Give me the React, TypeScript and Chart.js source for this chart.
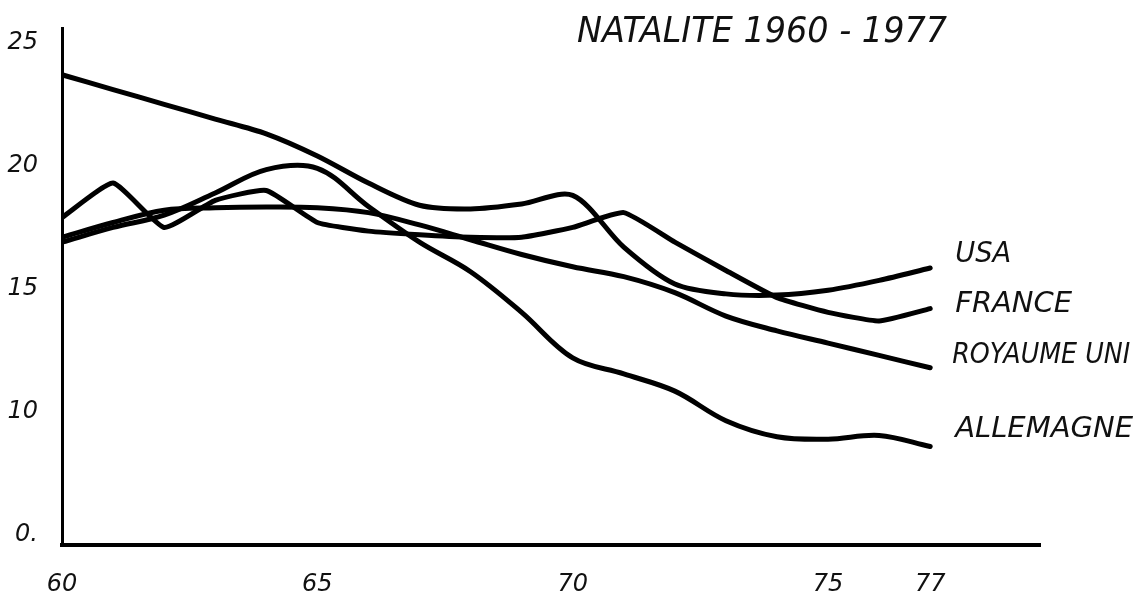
import React, { useEffect, useRef } from "react";
import { Chart, registerables } from "chart.js";

Chart.register(...registerables);

// ---- data ----
const years = [60, 61, 62, 63, 64, 65, 66, 67, 68, 69, 70, 71, 72, 73, 74, 75, 76, 77];
const usa = [23.7, 23.1, 22.5, 21.9, 21.3, 20.4, 19.3, 18.4, 18.25, 18.45, 18.8, 16.7, 15.2, 14.8, 14.75, 14.95, 15.35, 15.85];
const france = [17.9, 19.3, 17.5, 18.6, 19.0, 17.7, 17.35, 17.2, 17.1, 17.1, 17.5, 18.1, 16.9, 15.75, 14.65, 14.05, 13.7, 14.2];
const royaumeUni = [17.1, 17.7, 18.2, 18.3, 18.33, 18.3, 18.1, 17.6, 17.0, 16.4, 15.9, 15.5, 14.85, 13.9, 13.3, 12.8, 12.3, 11.8];
const allemagne = [16.9, 17.5, 18.0, 18.9, 19.85, 19.9, 18.35, 16.9, 15.7, 14.05, 12.2, 11.55, 10.85, 9.65, 9.0, 8.9, 9.05, 8.6];
const seriesNames = ["USA", "FRANCE", "ROYAUME UNI", "ALLEMAGNE"];
const xTickValues = [60, 65, 70, 75, 77];
const yTickValues = [5, 10, 15, 20, 25];
const yTickLabels = ["0.", "10", "15", "20", "25"];
const chartTitle = "NATALITE 1960 - 1977";

const FONT = '"DejaVu Sans", "Liberation Sans", sans-serif';

const handLabels = {
  id: "handLabels",
  afterDraw(chart: any) {
    const ctx = chart.ctx;
    const xs = chart.scales.x;
    const ys = chart.scales.y;
    ctx.save();
    ctx.fillStyle = "#111";
    ctx.textAlign = "left";
    ctx.textBaseline = "middle";
    ctx.font = `italic 36px ${FONT}`;
    ctx.fillText(chartTitle, 577, 33, 370);
    const style = [
      { dx: 25, dy: -14, w: 56 },
      { dx: 25, dy: -4, w: 117 },
      { dx: 22, dy: -12, w: 178 },
      { dx: 25, dy: -17, w: 178 },
    ];
    ctx.font = `italic 29px ${FONT}`;
    chart.data.datasets.forEach((ds: any, i: number) => {
      const last = ds.data[ds.data.length - 1];
      const px = xs.getPixelForValue(last.x) + style[i].dx;
      const py = ys.getPixelForValue(last.y) + style[i].dy;
      ctx.fillText(ds.label, px, py, style[i].w);
    });
    ctx.restore();
  },
};

export default function App() {
  const ref = useRef<HTMLCanvasElement>(null);
  useEffect(() => {
    const series = [usa, france, royaumeUni, allemagne];
    const tensions = [0.3, 0.15, 0.35, 0.35];
    const chart = new Chart(ref.current as HTMLCanvasElement, {
      type: "line",
      data: {
        datasets: series.map((s, i) => ({
          label: seriesNames[i],
          data: years.map((x, j) => ({ x, y: s[j] })),
          borderColor: "#000",
          borderWidth: 5,
          borderCapStyle: "round",
          borderJoinStyle: "round",
          pointRadius: 0,
          tension: tensions[i],
          fill: false,
        })),
      },
      options: {
        responsive: false,
        animation: false,
        layout: { padding: { top: 28, right: 107, left: 0, bottom: 0 } },
        plugins: {
          legend: { display: false },
          tooltip: { enabled: false },
          title: { display: false },
        },
        scales: {
          x: {
            type: "linear",
            min: 60,
            max: 79.15,
            grid: { display: false, drawTicks: false },
            border: { display: true, color: "#000", width: 4 },
            afterBuildTicks: (s: any) => {
              s.ticks = xTickValues.map((v) => ({ value: v }));
            },
            afterFit: (s: any) => {
              s.height = 50;
              s.paddingLeft = 0;
              s.paddingRight = 0;
            },
            ticks: {
              color: "#111",
              padding: 25,
              autoSkip: false,
              maxRotation: 0,
              font: { family: FONT, size: 24, style: "italic" },
              callback: (v: any) => String(v),
            },
          },
          y: {
            type: "linear",
            min: 4.6,
            max: 25.6,
            grid: { display: false, drawTicks: false },
            border: { display: true, color: "#000", width: 3 },
            afterBuildTicks: (s: any) => {
              s.ticks = yTickValues.map((v) => ({ value: v }));
            },
            afterFit: (s: any) => {
              s.width = 62;
              s.paddingTop = 0;
              s.paddingBottom = 0;
            },
            ticks: {
              color: "#111",
              padding: 24,
              font: { family: FONT, size: 24, style: "italic" },
              callback: (v: any) => {
                const k = yTickValues.indexOf(v);
                return k >= 0 ? yTickLabels[k] : "";
              },
            },
          },
        },
      },
      plugins: [handLabels],
    } as any);
    return () => chart.destroy();
  }, []);
  return (
    <div style={{ position: "fixed", left: 0, top: 0, width: 1147, height: 595, background: "#fff" }}>
      <canvas ref={ref} width={1147} height={595} style={{ display: "block", width: 1147, height: 595 }} />
    </div>
  );
}
